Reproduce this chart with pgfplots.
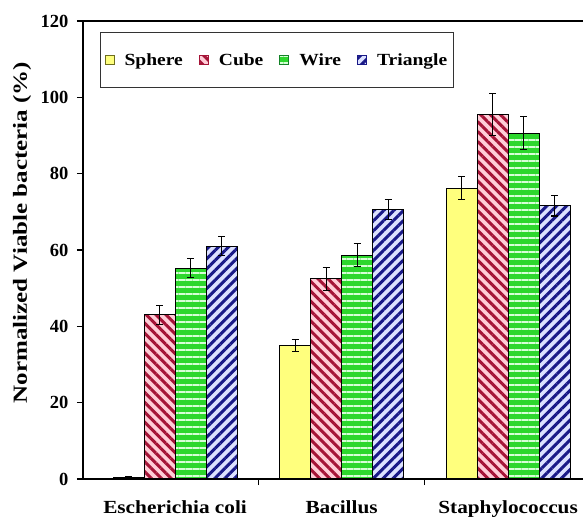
\documentclass[border=0pt]{standalone}
\usepackage{fontspec}
\setmainfont{Liberation Serif}
\newfontfamily\widefont{Liberation Serif}[FakeStretch=1.15]
\newfontfamily\ylabfont{Liberation Serif}[FakeStretch=1.25]
\usepackage{pgfplots}
\usepackage{pgfplotstable}
\pgfplotsset{compat=1.18}
\usetikzlibrary{patterns.meta}

\definecolor{sphereFill}{RGB}{255,255,125}
\definecolor{sphereEdge}{RGB}{110,110,30}
\definecolor{cubeFill}{RGB}{255,205,215}
\definecolor{cubeLine}{RGB}{165,20,55}
\definecolor{wireFill}{RGB}{45,215,45}
\definecolor{wireLine}{RGB}{215,255,215}
\definecolor{wireEdge}{RGB}{20,130,40}
\definecolor{triFill}{RGB}{220,225,255}
\definecolor{triLine}{RGB}{25,25,135}

% x: 0 = Escherichia coli, 1 = Bacillus, 2 = Staphylococcus
\pgfplotstableread{
x y e
0 0.4 0.3
1 35.0 1.5
2 76.2 3.0
}\sphere
\pgfplotstableread{
x y e
0 43.0 2.5
1 52.5 3.0
2 95.4 5.5
}\cube
\pgfplotstableread{
x y e
0 55.2 2.5
1 58.6 3.0
2 90.6 4.3
}\wire
\pgfplotstableread{
x y e
0 61.0 2.5
1 70.6 2.6
2 71.6 2.7
}\triangle

\begin{document}
\begin{tikzpicture}
\begin{axis}[
  scale only axis,
  width=500pt, height=458pt,
  xmin=-0.553, xmax=2.45,
  ymin=0, ymax=120,
  ytick={0,20,...,120},
  xtick={0,1,2},
  xticklabels={Escherichia coli, Bacillus, Staphylococcus},
  minor xtick={0.5,1.5},
  major x tick style={draw=none},
  tick align=outside,
  major tick length=6pt,
  minor tick length=6pt,
  tick style={black, line width=1.1pt},
  axis x line*=bottom,
  axis y line*=left,
  axis line style={-, black, line width=1.3pt},
  /pgf/number format/assume math mode=true,
  yticklabel style={font=\fontsize{18.5}{20}\selectfont\bfseries, xshift=-5pt},
  xticklabel style={font=\widefont\fontsize{18.5}{20}\selectfont\bfseries, yshift=-12pt},
  every axis y label/.style={at={(rel axis cs:0,0.538)}, anchor=center, xshift=-61pt, rotate=90},
  ylabel={\ylabfont\fontsize{20}{22}\selectfont\bfseries Normalized Viable bacteria (\%)},
  ybar=0pt,
  bar width=31pt,
  error bars/y dir=both,
  error bars/y explicit,
  error bars/error bar style={black, line width=1.1pt},
  error bars/error mark options={rotate=90, mark size=3.5pt, black, line width=1.1pt},
  legend columns=4,
  legend style={at={(0.034,0.976)}, anchor=north west,
    draw=black!80, line width=1.2pt,
    inner xsep=4pt, inner ysep=19pt,
    font=\widefont\fontsize{17}{19}\selectfont\bfseries,
    /tikz/every odd column/.append style={column sep=8pt},
    /tikz/every even column/.append style={column sep=14pt}},
  legend image code/.code={\draw[#1, line width=1pt] (0pt,-4.5pt) rectangle (9pt,4.5pt);},
]
\addplot[draw=black, line width=1.1pt, fill=sphereFill,
  legend image post style={draw=sphereEdge}]
  table[x=x, y=y, y error=e]{\sphere};
\addlegendentry{Sphere}
\addplot[draw=black, line width=1.1pt, fill=cubeFill,
  postaction={pattern={Lines[angle=-45, distance=7pt, line width=3pt]}, pattern color=cubeLine},
  legend image post style={draw=cubeLine}]
  table[x=x, y=y, y error=e]{\cube};
\addlegendentry{Cube}
\addplot[draw=black, line width=1.1pt, fill=wireFill,
  postaction={pattern={Lines[angle=0, distance=7pt, line width=2pt]}, pattern color=wireLine},
  legend image post style={draw=wireEdge}]
  table[x=x, y=y, y error=e]{\wire};
\addlegendentry{Wire}
\addplot[draw=black, line width=1.1pt, fill=triFill,
  postaction={pattern={Lines[angle=45, distance=7pt, line width=3pt]}, pattern color=triLine},
  legend image post style={draw=triLine}]
  table[x=x, y=y, y error=e]{\triangle};
\addlegendentry{Triangle}
% top frame line (the right side stays open)
\draw[black, line width=1.3pt] (rel axis cs:0,1) -- (rel axis cs:1,1);
\coordinate (SW) at (rel axis cs:0,0);
\coordinate (NE) at (rel axis cs:1,1);
\end{axis}
\pgfresetboundingbox
\path[use as bounding box] ([xshift=-83pt, yshift=-46pt]SW) rectangle ([yshift=21pt]NE);
\end{tikzpicture}
\end{document}
